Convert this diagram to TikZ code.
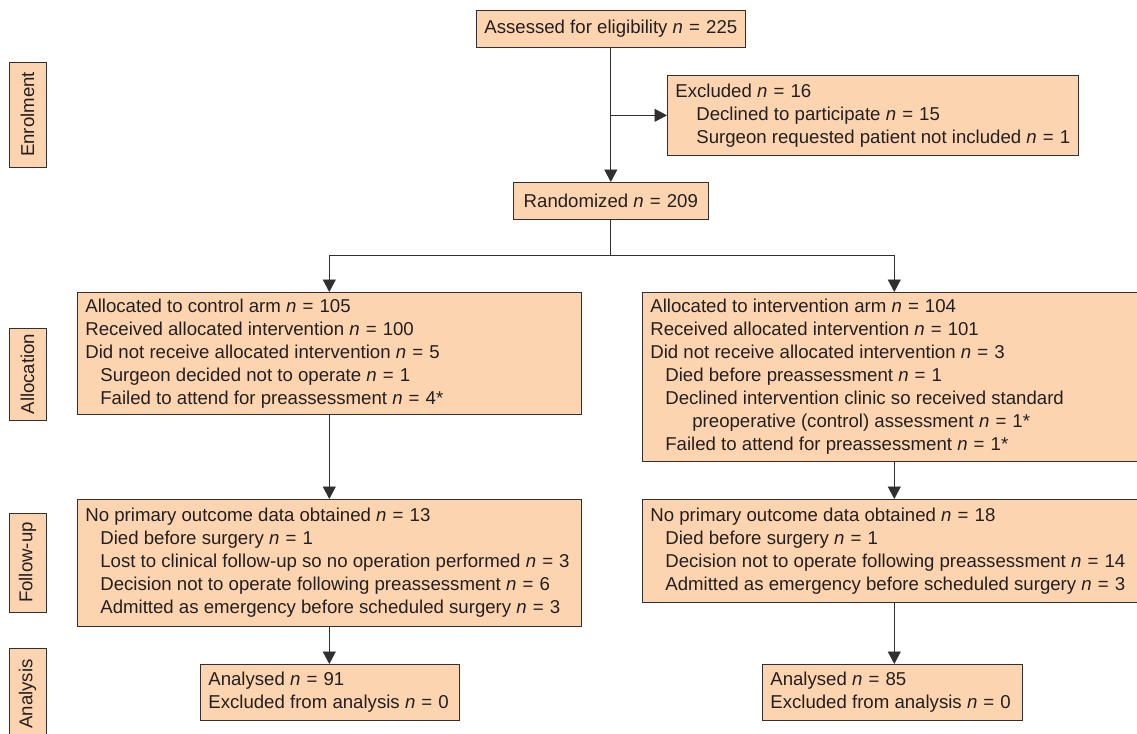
\documentclass[tikz,border=0pt]{standalone}
\usepackage{fontspec}
\setmainfont{Liberation Sans}
\usetikzlibrary{positioning}
\usetikzlibrary{arrows.meta}
\definecolor{peach}{RGB}{252,213,176}
\definecolor{edgegray}{RGB}{50,47,48}
\definecolor{inkgray}{RGB}{35,31,32}
\newcommand{\ncount}[1]{\mbox{\textit{n}\hspace{0.05em} =\hspace{0.05em} #1}}
\newcommand{\ind}{\hspace*{0.3cm}}
\tikzset{>={Triangle[length=2.5mm,width=2.6mm]}}
\tikzset{box/.style={draw=edgegray, fill=peach, text=inkgray, font=\fontsize{10.6}{13.1}\selectfont, align=left, inner xsep=0.16cm, inner ysep=0pt, execute at begin node={\spaceskip=0pt\xspaceskip=0pt\relax}}}
\tikzset{stage/.style={box, rotate=90, inner sep=0pt, minimum height=0.74cm}}
\tikzset{conn/.style={draw=edgegray, line width=0.5pt}}

\begin{document}
\begin{tikzpicture}[x=0.02cm, y=-0.02cm]
\useasboundingbox (0,0) rectangle (1137,734);

\node[box, anchor=north west, minimum width=5.36cm, minimum height=0.74cm] (assess) at (476,10) {Assessed for eligibility \ncount{225}};
\node[box, anchor=north west, text width=7.9cm, minimum height=1.6cm] (excl) at (667,75) {Excluded \ncount{16}\\
\hspace*{0.42cm}Declined to participate \ncount{15}\\
\hspace*{0.42cm}Surgeon requested patient not included \ncount{1}};
\node[box, anchor=north west, minimum width=3.9cm, minimum height=0.74cm] (rand) at (513,182) {Randomized \ncount{209}};

\node[box, anchor=north west, text width=9.76cm, minimum height=2.44cm] (ctrl) at (77,292) {Allocated to control arm \ncount{105}\\
Received allocated intervention \ncount{100}\\
Did not receive allocated intervention \ncount{5}\\
\ind Surgeon decided not to operate \ncount{1}\\
\ind Failed to attend for preassessment \ncount{4}*};
\node[box, anchor=north west, text width=9.76cm, minimum height=3.38cm] (intv) at (642,292) {Allocated to intervention arm \ncount{104}\\
Received allocated intervention \ncount{101}\\
Did not receive allocated intervention \ncount{3}\\
\ind Died before preassessment \ncount{1}\\
\ind Declined intervention clinic so received standard\\
\ind\hspace*{0.54cm}preoperative (control) assessment \ncount{1}*\\
\ind Failed to attend for preassessment \ncount{1}*};

\node[box, anchor=north west, text width=9.76cm, minimum height=2.54cm] (ctrlfu) at (77,499) {No primary outcome data obtained \ncount{13}\\
\ind Died before surgery \ncount{1}\\
\ind Lost to clinical follow-up so no operation performed \ncount{3}\\
\ind Decision not to operate following preassessment \ncount{6}\\
\ind Admitted as emergency before scheduled surgery \ncount{3}};
\node[box, anchor=north west, text width=9.76cm, minimum height=2.06cm] (intfu) at (642,499) {No primary outcome data obtained \ncount{18}\\
\ind Died before surgery \ncount{1}\\
\ind Decision not to operate following preassessment \ncount{14}\\
\ind Admitted as emergency before scheduled surgery \ncount{3}};

\node[box, anchor=north west, text width=4.86cm, minimum height=1.12cm] (ctrlan) at (200,664) {Analysed \ncount{91}\\
Excluded from analysis \ncount{0}};
\node[box, anchor=north west, text width=4.88cm, minimum height=1.12cm] (intan) at (762,664) {Analysed \ncount{85}\\
Excluded from analysis \ncount{0}};

\node[stage, minimum width=2.1cm] (enrol) at (27.5,114.5) {Enrolment};
\node[stage, minimum width=1.84cm] (alloc) at (27.5,374) {Allocation};
\node[stage, minimum width=1.98cm] (follow) at (27.5,562.5) {Follow-up};
\node[stage, minimum width=1.84cm] (anal) at (27.5,694) {Analysis};

\coordinate (split) at (610,255);

\draw[conn, ->] (assess.south) -- (assess.south |- rand.north);
\draw[conn, ->] (assess.south |- excl.west) -- (excl.west);
\draw[conn] (rand.south -| split) -- (split);
\draw[conn, ->] (split) -| (ctrl);
\draw[conn, ->] (split) -| (intv);
\draw[conn, ->] (ctrl) -- (ctrlfu);
\draw[conn, ->] (intv.south) -- (intv.south |- intfu.north);
\draw[conn, ->] (ctrlfu.south) -- (ctrlfu.south |- ctrlan.north);
\draw[conn, ->] (intfu.south) -- (intfu.south |- intan.north);

\end{tikzpicture}
\end{document}
